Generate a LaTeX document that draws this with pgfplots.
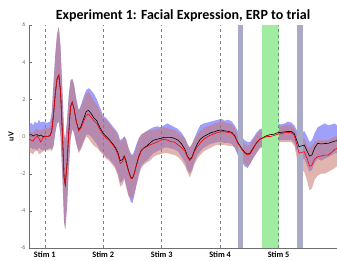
\documentclass[border=0pt]{standalone}
\usepackage{pgfplots}
\pgfplotsset{compat=1.18}
\usepackage{pgfplotstable}
\usepgfplotslibrary{fillbetween}
\usepackage{fontspec}
\setmainfont{Carlito}
\definecolor{bandblue}{RGB}{120,120,250}
\definecolor{bandred}{RGB}{200,120,110}
\definecolor{bargray}{RGB}{168,170,200}
\definecolor{bargreen}{RGB}{160,236,160}
\definecolor{axgray}{RGB}{110,110,110}
\pgfplotstableread{
x b bl bh r rl rh
0.73 0.08 -0.65 0.55 -0.15 -0.85 0.3
0.77 0.10 -0.6 0.75 -0.2 -0.9 0.25
0.80 0.02 -0.7 0.6 -0.25 -0.95 0.2
0.83 0.08 -0.65 0.8 -0.1 -0.8 0.35
0.87 0.10 -0.75 0.7 0.02 -0.75 0.4
0.90 0.02 -0.6 0.9 -0.1 -0.95 0.3
0.93 0.08 -0.7 0.75 -0.3 -0.9 0.35
0.97 0.0 -0.75 0.8 -0.05 -0.8 0.4
1.01 0.02 -0.7 0.75 0.0 -0.75 0.45
1.05 0.0 -0.7 0.75 0.0 -0.75 0.45
1.09 0.05 -0.6 0.8 0.05 -0.7 0.5
1.12 0.3 -0.7 1.3 0.3 -0.8 1.3
1.15 1.2 -0.5 2.9 1.2 -0.5 2.9
1.18 2.3 0.2 4.4 2.3 0.2 4.4
1.21 3.1 0.7 5.5 3.1 0.7 5.5
1.24 3.3 0.8 5.9 3.3 0.8 5.9
1.27 2.4 0.0 4.8 2.4 0.0 4.8
1.30 0.3 -2.0 2.6 0.3 -2.0 2.6
1.33 -2.2 -4.6 0.2 -2.2 -4.6 0.2
1.35 -2.6 -5.0 -0.2 -2.6 -5.0 -0.2
1.38 -1.5 -3.8 0.8 -1.5 -3.8 0.8
1.41 0.2 -1.8 2.2 0.2 -1.8 2.2
1.44 1.6 -0.2 3.0 1.6 -0.2 3.0
1.47 1.85 0.4 3.1 1.85 0.4 3.1
1.50 1.5 0.2 2.8 1.5 0.2 2.8
1.54 0.8 -0.4 2.0 0.8 -0.4 2.0
1.58 0.35 -0.8 1.4 0.3 -0.9 1.4
1.62 0.55 -0.6 1.7 0.45 -0.7 1.6
1.67 1.0 -0.2 2.2 0.85 -0.3 2.0
1.71 1.35 0.1 2.5 1.15 0.0 2.3
1.75 1.4 0.1 2.6 1.2 -0.1 2.4
1.79 1.25 0.0 2.5 1.05 -0.3 2.2
1.84 1.0 -0.2 2.3 0.85 -0.5 1.9
1.89 0.85 -0.4 2.0 0.7 -0.6 1.7
1.94 0.5 -0.7 1.6 0.4 -0.8 1.4
2.00 0.17 -0.9 1.1 0.08 -1.0 1.0
2.05 0.0 -1.1 1.0 -0.08 -1.2 0.9
2.10 -0.15 -1.2 0.8 -0.2 -1.3 0.7
2.15 -0.35 -1.4 0.6 -0.4 -1.5 0.5
2.20 -0.55 -1.6 0.4 -0.62 -1.7 0.3
2.25 -0.85 -2.0 0.2 -0.95 -2.1 0.1
2.29 -1.3 -2.5 -0.2 -1.45 -2.7 -0.3
2.33 -1.25 -2.4 -0.1 -1.35 -2.6 -0.2
2.36 -1.05 -2.2 0.0 -1.1 -2.3 0.0
2.39 -1.3 -2.6 -0.1 -1.4 -2.7 -0.2
2.43 -1.8 -3.1 -0.6 -1.85 -3.2 -0.6
2.47 -2.2 -3.5 -0.9 -2.25 -3.3 -1.0
2.50 -2.25 -3.6 -1.0 -2.25 -3.4 -1.0
2.53 -2.0 -3.2 -0.8 -2.0 -3.1 -0.9
2.57 -1.5 -2.6 -0.4 -1.55 -2.6 -0.5
2.61 -1.05 -2.0 -0.1 -1.1 -2.1 -0.1
2.65 -0.75 -1.6 0.1 -0.78 -1.7 0.1
2.70 -0.6 -1.4 0.2 -0.62 -1.5 0.2
2.75 -0.5 -1.3 0.3 -0.55 -1.4 0.3
2.80 -0.35 -1.1 0.4 -0.45 -1.3 0.35
2.86 -0.2 -0.9 0.5 -0.38 -1.1 0.35
2.92 -0.15 -0.8 0.55 -0.3 -1.0 0.4
2.98 -0.1 -0.7 0.5 -0.2 -0.95 0.45
3.04 -0.05 -0.6 0.6 -0.15 -0.9 0.5
3.10 -0.05 -0.6 0.7 -0.2 -0.9 0.45
3.16 -0.05 -0.65 0.6 -0.28 -0.95 0.4
3.22 -0.1 -0.7 0.5 -0.3 -1.0 0.35
3.28 -0.2 -0.8 0.4 -0.45 -1.1 0.2
3.34 -0.4 -1.1 0.2 -0.6 -1.3 0.05
3.40 -0.7 -1.4 -0.1 -0.8 -1.6 -0.1
3.44 -1.05 -1.8 -0.4 -1.1 -1.9 -0.4
3.48 -1.24 -2.0 -0.6 -1.3 -2.2 -0.6
3.52 -1.1 -1.8 -0.4 -1.15 -1.9 -0.4
3.56 -0.75 -1.4 -0.1 -0.82 -1.5 -0.1
3.61 -0.4 -1.0 0.3 -0.55 -1.2 0.1
3.66 -0.15 -0.8 0.6 -0.35 -1.0 0.3
3.72 0.0 -0.6 0.7 -0.15 -0.8 0.45
3.78 0.1 -0.5 0.75 -0.02 -0.7 0.55
3.84 0.2 -0.4 0.8 0.08 -0.6 0.6
3.90 0.25 -0.35 0.85 0.15 -0.5 0.7
3.96 0.32 -0.3 0.9 0.22 -0.45 0.75
4.02 0.35 -0.3 0.95 0.26 -0.45 0.8
4.08 0.3 -0.35 0.85 0.25 -0.45 0.75
4.14 0.28 -0.35 0.9 0.22 -0.5 0.7
4.20 0.22 -0.4 0.8 0.18 -0.5 0.65
4.25 0.05 -0.6 0.6 0.0 -0.6 0.45
4.30 -0.3 -1.0 0.3 -0.35 -0.9 0.1
4.36 -0.6 -1.3 0.0 -0.65 -1.2 -0.2
4.42 -0.85 -1.6 -0.2 -0.9 -1.5 -0.4
4.47 -0.95 -1.7 -0.3 -1.0 -1.6 -0.5
4.51 -0.9 -1.5 -0.3 -0.95 -1.5 -0.45
4.56 -0.65 -1.2 -0.1 -0.7 -1.2 -0.2
4.62 -0.35 -0.9 0.2 -0.37 -0.9 0.1
4.68 -0.15 -0.6 0.4 -0.15 -0.65 0.3
4.74 -0.05 -0.5 0.45 -0.08 -0.55 0.35
4.80 0.05 -0.4 0.5 0.0 -0.5 0.4
4.86 0.1 -0.35 0.6 0.0 -0.45 0.45
4.92 0.12 -0.3 0.55 0.05 -0.4 0.45
4.98 0.2 -0.25 0.7 0.12 -0.35 0.5
5.04 0.22 -0.2 0.65 0.15 -0.3 0.55
5.10 0.25 -0.2 0.7 0.2 -0.3 0.6
5.16 0.27 -0.2 0.8 0.22 -0.3 0.65
5.22 0.27 -0.2 0.75 0.2 -0.3 0.6
5.27 0.15 -0.35 0.6 0.05 -0.5 0.45
5.31 -0.2 -0.8 0.35 -0.4 -1.1 0.15
5.35 -0.55 -1.2 0.1 -0.9 -1.7 -0.2
5.40 -0.5 -1.2 0.2 -0.85 -1.8 -0.1
5.44 -0.46 -1.2 0.3 -0.82 -1.9 -0.1
5.49 -0.8 -1.6 0.0 -1.2 -2.4 -0.5
5.53 -1.05 -1.9 -0.3 -1.6 -2.9 -0.6
5.57 -1.0 -1.8 -0.2 -1.55 -2.8 -0.5
5.62 -0.6 -1.4 0.2 -1.2 -2.3 -0.3
5.67 -0.37 -1.2 0.5 -1.09 -2.1 -0.2
5.73 -0.4 -1.3 0.6 -1.05 -2.0 -0.2
5.79 -0.38 -1.2 0.7 -1.0 -2.0 -0.2
5.85 -0.37 -1.1 0.6 -1.0 -1.9 -0.2
5.91 -0.3 -1.0 0.65 -0.85 -1.8 -0.1
5.96 -0.25 -0.9 0.7 -0.7 -1.7 0.0
6.00 -0.22 -0.9 0.6 -0.64 -1.6 0.0
}\erp
\begin{document}
\begin{tikzpicture}
\begin{axis}[
  scale only axis, width=308pt, height=223pt,
  xmin=0.73, xmax=6, ymin=-6, ymax=6,
  axis x line*=bottom, axis y line*=left,
  axis line style={axgray},
  xtick={1,2,3,4,5},
  xticklabels={\textbf{Stim 1},\textbf{Stim 2},\textbf{Stim 3},\textbf{Stim 4},\textbf{Stim 5}},
  x tick label style={font=\fontsize{8.3}{9}\selectfont, yshift=0pt},
  major x tick style={draw=none},
  ytick={-6,-4,...,6},
  y tick label style={font=\fontsize{6}{7}\selectfont, text=axgray},
  major tick length=3pt, tick align=inside, ytick style={axgray},
  /pgf/number format/assume math mode=true,
  ylabel={\textbf{uV}}, ylabel style={font=\fontsize{8}{9}\selectfont, yshift=0pt},
  title={\textbf{Experiment 1: Facial Expression, ERP to trial}},
  title style={font=\fontsize{14}{15}\selectfont, yshift=-6pt},
  clip=true,
]
\addplot[fill=bargray, draw=none] coordinates {(4.30,-6) (4.40,-6) (4.40,6) (4.30,6)} -- cycle;
\addplot[fill=bargreen, draw=none] coordinates {(4.71,-6) (5.0,-6) (5.0,6) (4.71,6)} -- cycle;
\addplot[fill=bargray, draw=none] coordinates {(5.31,-6) (5.41,-6) (5.41,6) (5.31,6)} -- cycle;
\addplot[name path=bh, draw=none, forget plot] table[x=x,y=bh] {\erp};
\addplot[name path=bl, draw=none, forget plot] table[x=x,y=bl] {\erp};
\addplot[fill=bandblue, fill opacity=0.7, draw=none] fill between[of=bh and bl];
\addplot[name path=rh, draw=none, forget plot] table[x=x,y=rh] {\erp};
\addplot[name path=rl, draw=none, forget plot] table[x=x,y=rl] {\erp};
\addplot[fill=bandred, fill opacity=0.55, draw=none] fill between[of=rh and rl];
\foreach \s in {1,2,3,4,5} {
  \edef\tmp{\noexpand\addplot[gray, dashed, thin] coordinates {(\s,-6) (\s,6)};}
  \tmp
}
\addplot[black, line width=0.6pt] table[x=x,y=b] {\erp};
\addplot[red, line width=0.6pt] table[x=x,y=r] {\erp};
\end{axis}
\pgfresetboundingbox
\path[use as bounding box] (-29pt,-13pt) rectangle (308pt,248pt);
\end{tikzpicture}
\end{document}
